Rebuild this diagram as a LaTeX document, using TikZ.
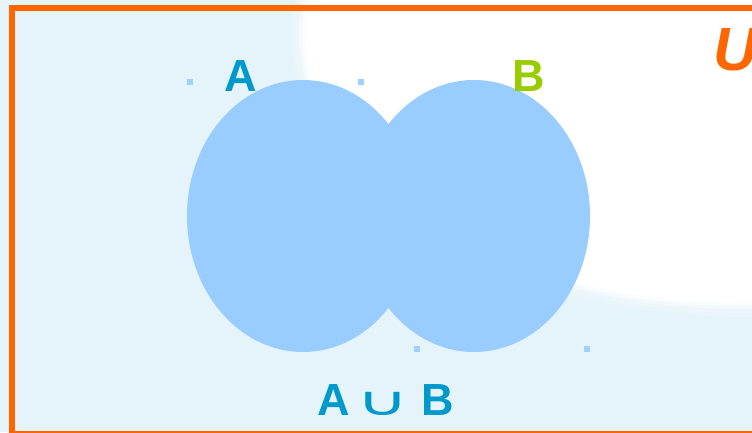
\documentclass[tikz,border=0pt]{standalone}
\usepackage{fontspec}
\usepackage{graphicx}
\setmainfont{Liberation Sans}
\newfontfamily\symfont{DejaVu Sans}
\begin{document}
\begin{tikzpicture}[x=1pt,y=-1pt,
  setfill/.style={fill=setblue},
  handle/.style={fill=setblue!90!white, draw=none},
  lbl/.style={inner sep=0pt, font=\fontsize{45}{45}\selectfont\bfseries}]
\definecolor{bgblue}{HTML}{E5F4FA}
\definecolor{setblue}{HTML}{99CCFF}
\definecolor{orng}{HTML}{FF6600}
\definecolor{teal}{HTML}{0099CC}
\definecolor{lime}{HTML}{99CC00}
\useasboundingbox (0,0) rectangle (752,432);
\clip (0,0) rectangle (752,432);
\fill[bgblue] (0,0) rectangle (752,432);
% white glow
\foreach \d/\o in {14/0.15,10/0.25,6/0.4,3/0.6}{
  \fill[white,opacity=\o] (745,35) ellipse ({440+\d} and {268+\d});
}
\fill[white] (745,35) ellipse (440 and 268);
% frame
\draw[orng,line width=6] (12,8) rectangle (770,434);
% sets
\fill[setfill] (303,216) ellipse (116 and 136);
\fill[setfill] (474,216) ellipse (116 and 136);
% handles
\foreach \x/\y in {190/82,361/82,417/349,587/349}{
  \fill[handle] (\x-3,\y-3) rectangle (\x+3,\y+3);
}
\node[lbl, text=teal] (A) at (241,76) {A};
\node[lbl, text=lime] (B) at (529,76) {B};
\node[lbl, text=teal] (AuB) at (386,400) {A\hspace{6pt}{\symfont\mdseries\fontsize{40}{40}\selectfont\scalebox{1.8}[1.0]{∪}}\hspace{13pt}B};
\node[inner sep=0pt, anchor=west, text=orng, font=\fontsize{61}{61}\selectfont\bfseries\itshape] (U) at (713,50) {U};
\end{tikzpicture}
\end{document}
